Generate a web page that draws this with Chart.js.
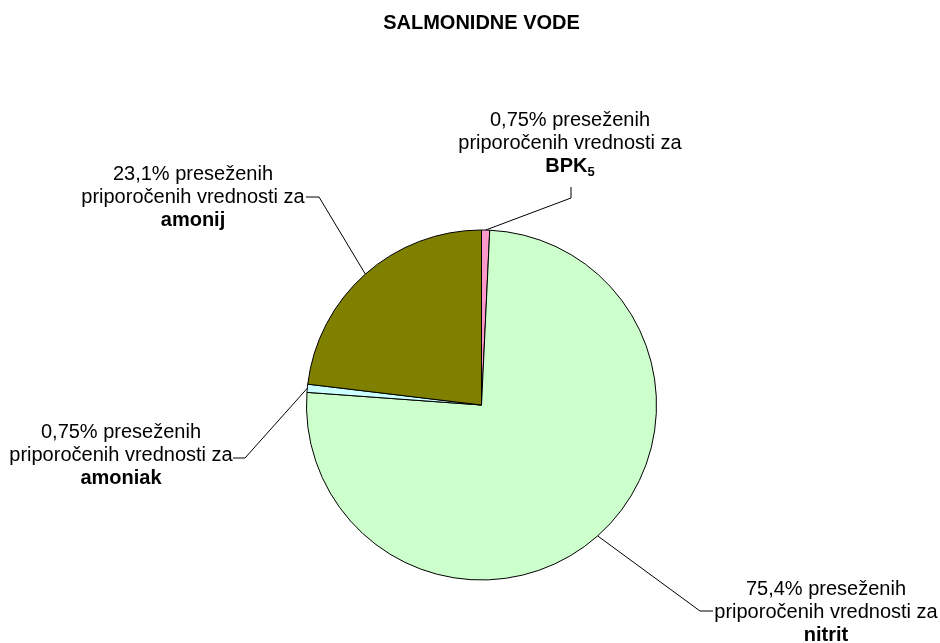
<!DOCTYPE html>
<html>
<head>
<meta charset="utf-8">
<script src="https://cdn.jsdelivr.net/npm/chart.js@4.4.0/dist/chart.umd.min.js"></script>
<style>
html, body { margin: 0; padding: 0; background: #fff; }
</style>
</head>
<body>
<canvas id="pieChart" width="940" height="643"></canvas>
<script>
var categories = ['BPK', 'nitrit', 'amoniak', 'amonij'];
var subscripts = ['5', '', '', ''];
var shares = [0.75, 75.4, 0.75, 23.1];
var shareLabels = ['0,75%', '75,4%', '0,75%', '23,1%'];
var sliceColors = ['#FF99CC', '#CCFFCC', '#CCFFFF', '#808000'];

// label block: centre x, first baseline y, leader tick [near text x,y, corner x,y]
var labelSpots = [
    { x: 570, y: 126, tick: [571, 187, 571, 198] },
    { x: 826, y: 595, tick: [713, 611, 700, 611] },
    { x: 121, y: 438, tick: [233, 458, 245, 458] },
    { x: 193, y: 180, tick: [306, 197, 319, 197] }
];

var fontFamily = '"Liberation Sans", Arial, sans-serif';

var calloutPlugin = {
    id: 'callouts',
    afterDatasetsDraw: function(chart) {
        var ctx = chart.ctx;
        var meta = chart.getDatasetMeta(0);
        ctx.save();
        meta.data.forEach(function(arc, i) {
            var p = arc.getProps(['x', 'y', 'startAngle', 'endAngle', 'outerRadius'], true);
            var mid = (p.startAngle + p.endAngle) / 2;
            var ex = p.x + Math.cos(mid) * p.outerRadius;
            var ey = p.y + Math.sin(mid) * p.outerRadius;
            var s = labelSpots[i];

            // leader line
            ctx.strokeStyle = '#000';
            ctx.lineWidth = 1;
            ctx.beginPath();
            ctx.moveTo(s.tick[0], s.tick[1]);
            ctx.lineTo(s.tick[2], s.tick[3]);
            ctx.lineTo(ex, ey);
            ctx.stroke();

            // text
            ctx.fillStyle = '#000';
            ctx.textAlign = 'center';
            ctx.textBaseline = 'alphabetic';
            ctx.font = '20px ' + fontFamily;
            ctx.fillText(shareLabels[i] + ' preseženih', s.x, s.y);
            ctx.fillText('priporočenih vrednosti za', s.x, s.y + 23);

            ctx.font = 'bold 20px ' + fontFamily;
            var w1 = ctx.measureText(categories[i]).width;
            var w2 = 0;
            if (subscripts[i]) {
                ctx.font = 'bold 13px ' + fontFamily;
                w2 = ctx.measureText(subscripts[i]).width;
            }
            var left = s.x - (w1 + w2) / 2;
            ctx.textAlign = 'left';
            ctx.font = 'bold 20px ' + fontFamily;
            ctx.fillText(categories[i], left, s.y + 46);
            if (subscripts[i]) {
                ctx.font = 'bold 13px ' + fontFamily;
                ctx.fillText(subscripts[i], left + w1, s.y + 50);
            }
        });
        ctx.restore();
    }
};

var ctx = document.getElementById('pieChart').getContext('2d');
var myChart = new Chart(ctx, {
    type: 'pie',
    data: {
        labels: categories,
        datasets: [{
            data: shares,
            backgroundColor: sliceColors,
            borderColor: '#000',
            borderWidth: 1
        }]
    },
    options: {
        responsive: false,
        animation: false,
        layout: {
            padding: { left: 306, right: 283, top: 0, bottom: 62.5 }
        },
        plugins: {
            legend: { display: false },
            tooltip: { enabled: false },
            title: {
                display: true,
                text: 'SALMONIDNE VODE',
                color: '#000',
                font: { family: fontFamily, size: 20, weight: 'bold', lineHeight: 1.2 },
                padding: { top: 11, bottom: 194.5 }
            }
        }
    },
    plugins: [calloutPlugin]
});
</script>
</body>
</html>
